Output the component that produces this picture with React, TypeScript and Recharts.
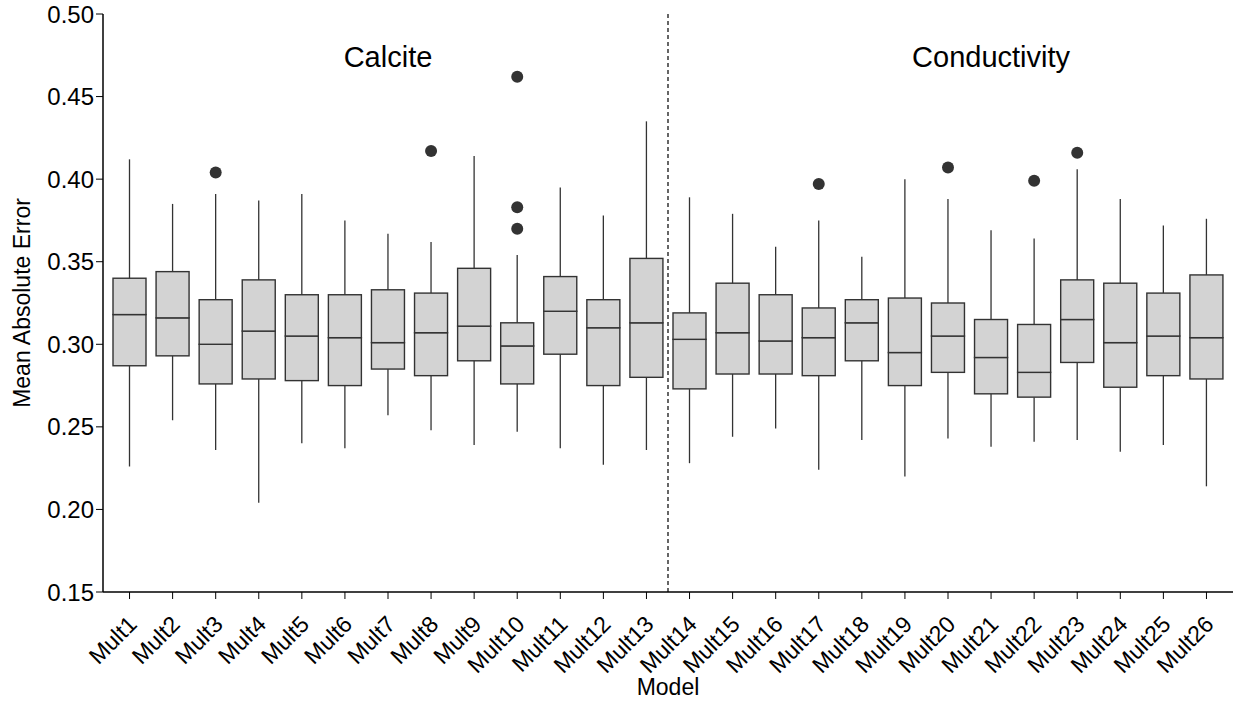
import {
  Bar,
  ComposedChart,
  Line,
  ReferenceDot,
  ReferenceLine,
  XAxis,
  YAxis,
} from "recharts";

const models = [
  "Mult1", "Mult2", "Mult3", "Mult4", "Mult5", "Mult6", "Mult7", "Mult8", "Mult9",
  "Mult10", "Mult11", "Mult12", "Mult13", "Mult14", "Mult15", "Mult16", "Mult17",
  "Mult18", "Mult19", "Mult20", "Mult21", "Mult22", "Mult23", "Mult24", "Mult25", "Mult26",
];

const whiskerHigh = [
  0.412, 0.385, 0.391, 0.387, 0.391, 0.375, 0.367, 0.362, 0.414, 0.354, 0.395, 0.378, 0.435,
  0.389, 0.379, 0.359, 0.375, 0.353, 0.400, 0.388, 0.369, 0.364, 0.406, 0.388, 0.372, 0.376,
];
const q3 = [
  0.340, 0.344, 0.327, 0.339, 0.330, 0.330, 0.333, 0.331, 0.346, 0.313, 0.341, 0.327, 0.352,
  0.319, 0.337, 0.330, 0.322, 0.327, 0.328, 0.325, 0.315, 0.312, 0.339, 0.337, 0.331, 0.342,
];
const median = [
  0.318, 0.316, 0.300, 0.308, 0.305, 0.304, 0.301, 0.307, 0.311, 0.299, 0.320, 0.310, 0.313,
  0.303, 0.307, 0.302, 0.304, 0.313, 0.295, 0.305, 0.292, 0.283, 0.315, 0.301, 0.305, 0.304,
];
const q1 = [
  0.287, 0.293, 0.276, 0.279, 0.278, 0.275, 0.285, 0.281, 0.290, 0.276, 0.294, 0.275, 0.280,
  0.273, 0.282, 0.282, 0.281, 0.290, 0.275, 0.283, 0.270, 0.268, 0.289, 0.274, 0.281, 0.279,
];
const whiskerLow = [
  0.226, 0.254, 0.236, 0.204, 0.240, 0.237, 0.257, 0.248, 0.239, 0.247, 0.237, 0.227, 0.236,
  0.228, 0.244, 0.249, 0.224, 0.242, 0.220, 0.243, 0.238, 0.241, 0.242, 0.235, 0.239, 0.214,
];
// outlier points per model (empty = none)
const outliers: number[][] = [
  [], [], [0.404], [], [], [], [], [0.417], [], [0.462, 0.383, 0.370], [], [], [],
  [], [], [], [0.397], [], [], [0.407], [], [0.399], [0.416], [], [], [],
];

const yTicks = [0.15, 0.2, 0.25, 0.3, 0.35, 0.4, 0.45, 0.5];
const groupLabels = [
  { model: "Mult7", y: 0.474, text: "Calcite" },
  { model: "Mult21", y: 0.474, text: "Conductivity" },
];
const dividerAfter = "Mult13";

const data = models.map((m, i) => ({
  model: m,
  base: whiskerLow[i],
  lowW: q1[i] - whiskerLow[i],
  boxLo: median[i] - q1[i],
  boxHi: q3[i] - median[i],
  highW: whiskerHigh[i] - q3[i],
  o1: outliers[i][0] ?? null,
  o2: outliers[i][1] ?? null,
  o3: outliers[i][2] ?? null,
}));

const BOX_FILL = "#D3D3D3";
const LINE = "#333333";

const Whisker = (p: any) => {
  const top = Math.min(p.y, p.y + p.height);
  const bot = Math.max(p.y, p.y + p.height);
  const cx = p.x + p.width / 2;
  return <line x1={cx} x2={cx} y1={top} y2={bot} stroke={LINE} strokeWidth={1.3} />;
};

const BoxPart = (p: any) => {
  const top = Math.min(p.y, p.y + p.height);
  const h = Math.abs(p.height);
  return (
    <rect x={p.x} y={top} width={p.width} height={h} fill={BOX_FILL} stroke={LINE} strokeWidth={1.4} />
  );
};

const OutlierDot = (p: any) => {
  if (p.value == null || p.cy == null) return <g key={p.key} />;
  return <circle key={p.key} cx={p.cx} cy={p.cy} r={6} fill="#333333" />;
};

const XTick = ({ x, y, payload }: any) => (
  <g transform={`translate(${x + 3},${y + 19})`}>
    <text textAnchor="end" transform="rotate(-45)" fontSize={23} fill="#000" dy="0.35em">
      {payload.value}
    </text>
  </g>
);

export default function App() {
  return (
    <div
      style={{
        position: "absolute",
        left: 0,
        top: 0,
        background: "#fff",
        fontFamily: "'Liberation Sans', Arial, sans-serif",
      }}
    >
      <ComposedChart
        width={1236}
        height={702}
        data={data}
        margin={{ top: 14, right: 3, left: 0, bottom: 10 }}
      >
        <XAxis
          dataKey="model"
          interval={0}
          padding={{ left: 5, right: 5 }}
          height={100}
          axisLine={{ stroke: "#000", strokeWidth: 1.5 }}
          tickLine={{ stroke: "#000" }}
          tickSize={7}
          tick={<XTick />}
          label={{ value: "Model", position: "insideBottom", offset: -3, fontSize: 23, fill: "#000" }}
        />
        <XAxis
          xAxisId="top"
          orientation="top"
          dataKey="model"
          height={0}
          tick={false}
          tickLine={false}
          axisLine={{ stroke: "#000", strokeWidth: 1.5 }}
        />
        <YAxis
          domain={[0.15, 0.5]}
          ticks={yTicks}
          allowDataOverflow
          width={103}
          axisLine={{ stroke: "#000", strokeWidth: 1.5 }}
          tickLine={{ stroke: "#000" }}
          tickSize={7}
          tick={{ fontSize: 24, fill: "#000" }}
          tickFormatter={(v: number) => v.toFixed(2)}
          label={{
            value: "Mean Absolute Error",
            angle: -90,
            position: "insideLeft",
            offset: 22,
            fontSize: 23,
            fill: "#000",
            style: { textAnchor: "middle" },
          }}
        />
        <YAxis
          yAxisId="right"
          orientation="right"
          width={0}
          tick={false}
          tickLine={false}
          axisLine={{ stroke: "#000", strokeWidth: 1.5 }}
        />
        <ReferenceLine
          x={dividerAfter}
          position="end"
          stroke="#000"
          strokeWidth={1.2}
          strokeDasharray="4 3"
        />
        {groupLabels.map((g) => (
          <ReferenceDot
            key={g.text}
            x={g.model}
            y={g.y}
            r={0}
            fill="none"
            stroke="none"
            label={{ value: g.text, position: "center", fontSize: 29, fill: "#000" }}
          />
        ))}
        <Bar dataKey="base" stackId="box" barSize={33} shape={() => <g />} isAnimationActive={false} />
        <Bar dataKey="lowW" stackId="box" barSize={33} shape={<Whisker />} isAnimationActive={false} />
        <Bar dataKey="boxLo" stackId="box" barSize={33} shape={<BoxPart />} isAnimationActive={false} />
        <Bar dataKey="boxHi" stackId="box" barSize={33} shape={<BoxPart />} isAnimationActive={false} />
        <Bar dataKey="highW" stackId="box" barSize={33} shape={<Whisker />} isAnimationActive={false} />
        {["o1", "o2", "o3"].map((k) => (
          <Line
            key={k}
            dataKey={k}
            stroke="none"
            dot={OutlierDot}
            activeDot={false}
            isAnimationActive={false}
          />
        ))}
      </ComposedChart>
    </div>
  );
}
